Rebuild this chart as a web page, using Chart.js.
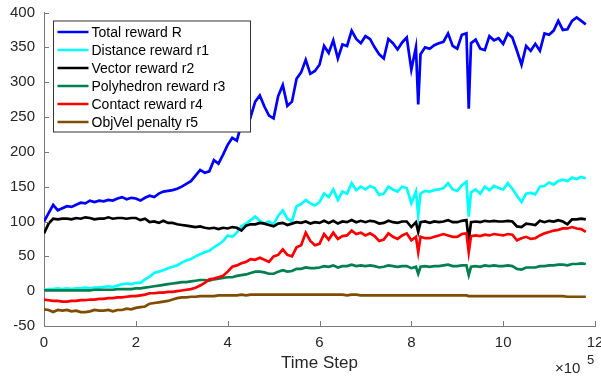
<!DOCTYPE html>
<html>
<head>
<meta charset="utf-8">
<script src="https://cdn.jsdelivr.net/npm/chart.js@4.4.1/dist/chart.umd.min.js"></script>
<style>
  html, body { margin: 0; padding: 0; background: #fff; }
  #wrap { width: 601px; height: 376px; }
</style>
</head>
<body>
<div id="wrap"><canvas id="rewardChart"></canvas></div>
<script>
// time steps (x 10^5)
const steps = [
  0, 0.1, 0.2, 0.3, 0.4, 0.5, 0.6, 0.7, 0.8, 0.9,
  1, 1.1, 1.2, 1.3, 1.4, 1.5, 1.6, 1.7, 1.8, 1.9,
  2, 2.1, 2.2, 2.3, 2.4, 2.5, 2.6, 2.7, 2.8, 2.9,
  3, 3.1, 3.2, 3.3, 3.4, 3.5, 3.6, 3.7, 3.8, 3.9,
  4, 4.1, 4.2, 4.3, 4.4, 4.5, 4.6, 4.7, 4.8, 4.9,
  5, 5.1, 5.2, 5.3, 5.4, 5.5, 5.6, 5.7, 5.8, 5.9,
  6, 6.1, 6.2, 6.3, 6.4, 6.5, 6.6, 6.7, 6.8, 6.9,
  7, 7.1, 7.2, 7.3, 7.4, 7.5, 7.6, 7.7, 7.8, 7.9,
  8, 8.1, 8.15, 8.2, 8.3, 8.4, 8.5, 8.6, 8.7, 8.8, 8.9,
  9, 9.1, 9.2, 9.25, 9.3, 9.4, 9.5, 9.6, 9.7, 9.8, 9.9,
  10, 10.1, 10.2, 10.3, 10.4, 10.5, 10.6, 10.7, 10.8, 10.9,
  11, 11.1, 11.2, 11.3, 11.4, 11.5, 11.6, 11.7, 11.8
];

const totalR = [
  100, 112, 124, 116, 119, 122, 121, 124, 127, 126,
  130, 128, 130, 129, 131, 130, 133, 135, 132, 134,
  133, 130, 134, 137, 135, 140, 143, 144, 145, 147,
  150, 154, 158, 166, 174, 170, 172, 188, 183, 196,
  210, 220, 216, 240, 258, 250, 272, 281, 265, 252,
  248, 280, 296, 266, 272, 305, 314, 332, 312, 316,
  325, 352, 342, 360, 334, 354, 352, 374, 362, 356,
  366, 362, 350, 340, 334, 362, 356, 347, 357, 364,
  318, 350, 268, 340, 350, 348, 353, 356, 358, 370, 352,
  348, 368, 370, 262, 356, 361, 348, 346, 366, 360, 363,
  355, 370, 364, 345, 325, 352, 345, 355, 345, 370,
  368, 374, 388, 375, 376, 388, 393, 388, 383
];

const distanceR1 = [
  2, 3, 3, 4, 3, 4, 3, 4, 4, 5,
  4, 5, 5, 6, 7, 6, 8, 10, 11, 10,
  12, 12, 17, 21, 26, 28, 30, 33, 35, 37,
  41, 44, 46, 50, 53, 56, 58, 63, 67, 72,
  80, 78, 84, 93, 97, 102, 107, 101, 97, 100,
  96, 108, 116, 104, 100, 122, 125, 131, 126, 123,
  128, 140, 135, 146, 131, 143, 140, 155, 145, 150,
  146, 151, 148, 138, 140, 150, 146, 143, 150, 148,
  126, 143, 109, 140, 144, 143, 145, 146, 148, 155, 146,
  144, 152, 157, 107, 142, 146, 140, 150, 145, 151, 148,
  146, 155, 147, 137, 128, 140, 141, 139, 150, 151,
  156, 153, 158, 160, 158, 163, 161, 164, 162
];

const vectorR2 = [
  83, 97, 104, 103, 104, 104, 103, 105, 104, 106,
  105, 103, 104, 104, 106, 104, 105, 105, 104, 105,
  105, 102, 104, 99, 100, 98, 101, 98, 98, 96,
  95, 94, 93, 92, 93, 91, 90, 91, 89, 91,
  90, 92, 91, 87, 94, 96, 96, 98, 97, 95,
  93, 97, 98, 95, 97, 99, 98, 100, 97, 99,
  98, 101, 98, 101, 97, 100, 99, 102, 99, 101,
  99, 101, 100, 97, 98, 101, 99, 98, 100, 100,
  92, 99, 85, 99, 100, 98, 100, 99, 100, 102, 99,
  99, 101, 102, 73, 99, 100, 99, 101, 100, 101, 100,
  100, 101, 100, 93, 92, 97, 96, 95, 101, 99,
  101, 100, 102, 100, 96, 103, 103, 104, 103
];

const polyhedronR3 = [
  1, 1, 1, 1, 1, 1, 1, 1, 1, 1,
  1, 2, 2, 2, 2, 2, 3, 3, 3, 3,
  4, 4, 5, 6, 7, 8, 9, 10, 11, 12,
  13, 13, 14, 15, 16, 16, 15, 17, 18, 19,
  20, 20, 22, 23, 24, 26, 28, 28, 27, 25,
  25, 28, 30, 28, 29, 32, 32, 34, 33, 33,
  34, 36, 35, 37, 34, 36, 36, 38, 36, 37,
  36, 37, 36, 34, 35, 37, 36, 35, 36, 36,
  33, 35, 25, 35, 36, 35, 36, 36, 37, 38, 36,
  36, 37, 37, 23, 35, 36, 35, 37, 36, 37, 36,
  36, 37, 36, 32, 31, 34, 34, 34, 36, 36,
  37, 37, 38, 38, 37, 39, 39, 40, 39
];

const contactR4 = [
  -12, -13, -14, -14, -15, -15, -14, -14, -13, -13,
  -12, -12, -11, -11, -10, -10, -9, -9, -8, -7,
  -7, -6, -5, -3, -3, -2, -2, -1, -1, 0,
  1, 2, 3, 5, 8, 12, 17, 18, 20, 22,
  28, 35, 37, 40, 42, 46, 45, 48, 45, 42,
  50, 52, 60, 52, 50, 63, 66, 84, 72, 66,
  68, 82, 74, 84, 75, 79, 80, 87, 82, 84,
  80, 83, 79, 72, 74, 83, 78, 75, 80, 83,
  73, 78, 56, 78, 76, 76, 78, 80, 82, 80, 78,
  78, 82, 83, 56, 79, 80, 79, 81, 80, 82, 81,
  80, 82, 81, 73, 76, 78, 75, 76, 80, 83,
  85, 87, 88, 90, 90, 92, 90, 89, 85
];

const objVelR5 = [
  -26, -27, -30, -27, -28, -27, -29, -28, -30, -30,
  -29, -27, -28, -28, -27, -29, -27, -27, -25, -26,
  -24, -23, -22, -18, -17, -16, -15, -14, -12, -10,
  -9, -9, -8, -8, -7, -7, -7, -7, -6, -6,
  -6, -6, -6, -5, -6, -5, -5, -5, -5, -5,
  -5, -5, -5, -5, -5, -5, -5, -5, -5, -5,
  -5, -5, -5, -5, -5, -5, -6, -5, -5, -6,
  -6, -6, -6, -6, -6, -6, -6, -6, -6, -6,
  -6, -6, -6, -6, -6, -6, -6, -6, -6, -6, -6,
  -6, -6, -6, -7, -7, -7, -7, -7, -7, -7, -7,
  -7, -7, -7, -7, -7, -7, -7, -7, -7, -7,
  -7, -7, -7, -7, -8, -8, -8, -8, -8
];

const seriesNames = ['Total reward R', 'Distance reward r1', 'Vector reward r2',
  'Polyhedron reward r3', 'Contact reward r4', 'ObjVel penalty r5'];
const seriesValues = [totalR, distanceR1, vectorR2, polyhedronR3, contactR4, objVelR5];
const seriesColors = ['#0000ff', '#00ffff', '#000000', '#007f4f', '#ff0000', '#7f4c00'];

const xTicks = [0, 2, 4, 6, 8, 10, 12];
const yTicks = [-50, 0, 50, 100, 150, 200, 250, 300, 350, 400];

const textColor = '#262626';
const axisColor = '#7a7a7a';
const fontFamily = '"Liberation Sans", Arial, Helvetica, sans-serif';

// MATLAB style ticks pointing into the plot
const inwardTicks = {
  id: 'inwardTicks',
  afterDatasetsDraw(chart) {
    const { ctx, chartArea: a, scales: { x, y } } = chart;
    ctx.save();
    ctx.strokeStyle = axisColor;
    ctx.lineWidth = 1;
    ctx.beginPath();
    x.ticks.forEach(t => {
      const px = Math.round(x.getPixelForValue(t.value)) + 0.5;
      ctx.moveTo(px, a.bottom);
      ctx.lineTo(px, a.bottom - 5);
    });
    y.ticks.forEach(t => {
      const py = Math.round(y.getPixelForValue(t.value)) + 0.5;
      ctx.moveTo(a.left, py);
      ctx.lineTo(a.left + 5, py);
    });
    ctx.stroke();
    ctx.restore();
  }
};

// boxed legend in the upper left corner + exponent label
const boxLegend = {
  id: 'boxLegend',
  afterDraw(chart) {
    const { ctx, chartArea: a } = chart;
    const left = a.left + 9.5, top = a.top + 8.5, w = 197, h = 111;
    ctx.save();
    ctx.fillStyle = '#ffffff';
    ctx.fillRect(left, top, w, h);
    ctx.strokeStyle = '#333333';
    ctx.lineWidth = 1;
    ctx.strokeRect(left, top, w, h);
    ctx.font = '14px ' + fontFamily;
    ctx.textBaseline = 'middle';
    chart.data.datasets.forEach((ds, i) => {
      const cy = top + 11 + i * 18;
      ctx.strokeStyle = ds.borderColor;
      ctx.lineWidth = 2.5;
      ctx.beginPath();
      ctx.moveTo(left + 4, cy);
      ctx.lineTo(left + 35, cy);
      ctx.stroke();
      ctx.fillStyle = '#000000';
      ctx.fillText(ds.label, left + 38, cy + 1);
    });

    // x10^5 multiplier
    ctx.fillStyle = textColor;
    ctx.textBaseline = 'alphabetic';
    ctx.font = '15px ' + fontFamily;
    ctx.fillText('\u00d710', 555, 373);
    ctx.font = '13px ' + fontFamily;
    ctx.fillText('5', 587, 364);
    ctx.restore();
  }
};

const datasets = seriesValues.map((vals, i) => ({
  label: seriesNames[i],
  data: steps.map((s, j) => ({ x: s, y: vals[j] })),
  borderColor: seriesColors[i],
  backgroundColor: seriesColors[i],
  borderWidth: 2.7,
  pointRadius: 0,
  tension: 0,
  fill: false,
  order: seriesNames.length - i
}));

new Chart(document.getElementById('rewardChart'), {
  type: 'line',
  data: { datasets },
  options: {
    responsive: true,
    maintainAspectRatio: false,
    animation: false,
    events: [],
    layout: { padding: { top: 12.5, right: 6, left: 0, bottom: 0 } },
    plugins: {
      legend: { display: false },
      tooltip: { enabled: false }
    },
    scales: {
      x: {
        type: 'linear',
        min: 0,
        max: 12,
        afterBuildTicks: s => { s.ticks = xTicks.map(v => ({ value: v })); },
        afterFit: s => { s.height = 50; s.paddingLeft = 0; s.paddingRight = 0; },
        grid: { display: false, drawTicks: false },
        border: { display: true, color: axisColor, width: 1 },
        ticks: {
          color: textColor,
          padding: 8,
          maxRotation: 0,
          font: { family: fontFamily, size: 15 }
        },
        title: {
          display: true,
          text: 'Time Step',
          color: textColor,
          padding: { top: 2, bottom: 2 },
          font: { family: fontFamily, size: 17 }
        }
      },
      y: {
        min: -50,
        max: 400,
        afterBuildTicks: s => { s.ticks = yTicks.map(v => ({ value: v })); },
        afterFit: s => { s.width = 44; s.paddingTop = 0; s.paddingBottom = 0; },
        grid: { display: false, drawTicks: false },
        border: { display: true, color: axisColor, width: 1 },
        ticks: {
          color: textColor,
          padding: 9,
          font: { family: fontFamily, size: 15 }
        }
      }
    }
  },
  plugins: [inwardTicks, boxLegend]
});
</script>
</body>
</html>
